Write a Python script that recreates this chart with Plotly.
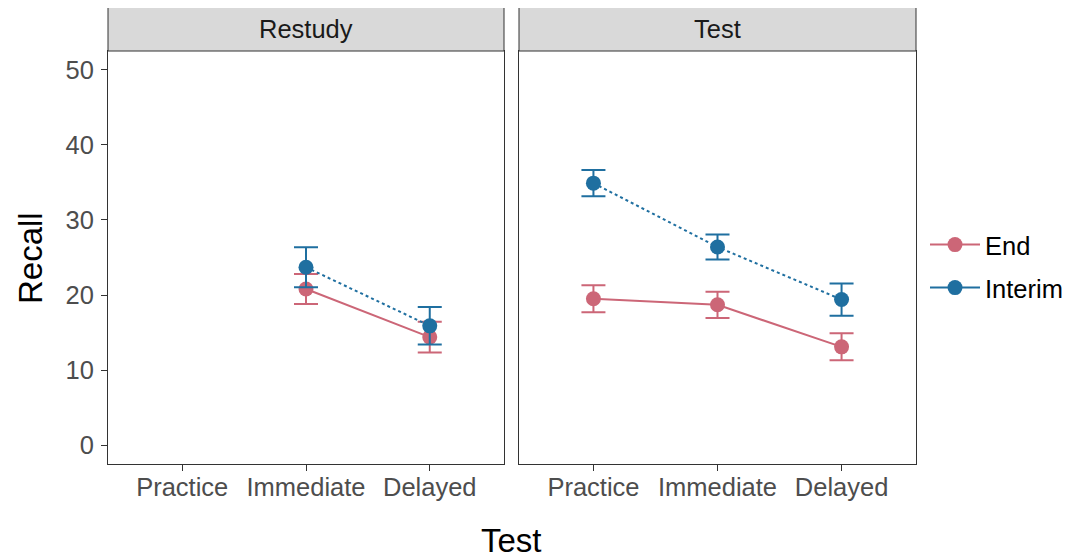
import plotly.graph_objects as go

categories = ["Practice", "Immediate", "Delayed"]
cat_pos = [1, 2, 3]
y_ticks = [0, 10, 20, 30, 40, 50]
panels = ["Restudy", "Test"]

# End group
end_restudy_mean = [None, 20.8, 14.4]
end_restudy_se = [None, 2.0, 2.05]
end_test_mean = [19.5, 18.7, 13.1]
end_test_se = [1.8, 1.75, 1.8]

# Interim group
interim_restudy_mean = [None, 23.7, 15.9]
interim_restudy_se = [None, 2.65, 2.5]
interim_test_mean = [34.9, 26.4, 19.4]
interim_test_se = [1.75, 1.65, 2.15]

END_COL = "#CC6677"
INT_COL = "#1F6FA0"
FONT = "Liberation Sans"
W, H = 1073, 558
OFF = 8  # page body margin offset
FS = 25.5
TS = 33

fig = go.Figure()

def add(xax, yax, mean, se, col, dash):
    fig.add_trace(go.Scatter(
        x=cat_pos, y=mean, xaxis=xax, yaxis=yax, mode="lines+markers",
        line=dict(color=col, width=2, dash=dash),
        marker=dict(color=col, size=15),
        error_y=dict(type="data", array=se, color=col, thickness=2, width=12),
        showlegend=False, connectgaps=False, hoverinfo="skip"))

add("x", "y", end_restudy_mean, end_restudy_se, END_COL, "solid")
add("x", "y", interim_restudy_mean, interim_restudy_se, INT_COL, "dot")
add("x2", "y2", end_test_mean, end_test_se, END_COL, "solid")
add("x2", "y2", interim_test_mean, interim_test_se, INT_COL, "dot")

# legend-only traces (separate legends for spacing)
for name, col, leg in [("End", END_COL, "legend"), ("Interim", INT_COL, "legend2")]:
    fig.add_trace(go.Scatter(x=[None], y=[None], mode="lines+markers", name=name,
                             line=dict(color=col, width=2), legend=leg,
                             marker=dict(color=col, size=15), showlegend=True))

# layout geometry (page pixels)
px0, px1 = 108, 504
qx0, qx1 = 519, 916
top, bottom = 51, 464
strip_top = 6

def fx(p):
    return (p - OFF) / W

def fy(p):
    return (H - (p - OFF)) / H

axis_common = dict(showgrid=False, zeroline=False, showline=True, mirror=True,
                   linecolor="#333333", linewidth=1)
xcommon = dict(axis_common, range=[0.4, 3.6], tickvals=cat_pos, ticktext=categories,
               ticks="outside", ticklen=6, tickcolor="#333333", tickwidth=1,
               ticklabelstandoff=-6,
               tickfont=dict(family=FONT, size=FS, color="#4D4D4D"), automargin=False)
ycommon = dict(axis_common, range=[-2.5, 52.5], automargin=False)

legcommon = dict(xanchor="left", yanchor="middle",
                 font=dict(family=FONT, size=FS, color="black"),
                 bgcolor="rgba(0,0,0,0)", itemwidth=50)

fig.update_layout(
    width=W, height=H, margin=dict(l=0, r=0, t=0, b=0),
    plot_bgcolor="white", paper_bgcolor="white",
    xaxis=dict(xcommon, domain=[fx(px0), fx(px1)], anchor="y"),
    xaxis2=dict(xcommon, domain=[fx(qx0), fx(qx1)], anchor="y2"),
    yaxis=dict(ycommon, domain=[fy(bottom), fy(top)], anchor="x", tickvals=y_ticks,
               ticks="outside", ticklen=6, tickcolor="#333333", ticklabelstandoff=2,
               tickfont=dict(family=FONT, size=FS, color="#4D4D4D")),
    yaxis2=dict(ycommon, domain=[fy(bottom), fy(top)], anchor="x2", showticklabels=False,
                ticks=""),
    legend=dict(legcommon, x=fx(925), y=fy(245)),
    legend2=dict(legcommon, x=fx(925), y=fy(288)),
    showlegend=True,
)

# strips
for (a, b), label in zip([(px0, px1), (qx0, qx1)], panels):
    fig.add_shape(type="rect", xref="paper", yref="paper",
                  x0=fx(a), x1=fx(b), y0=fy(top), y1=fy(strip_top),
                  fillcolor="#D9D9D9", line=dict(color="#333333", width=1), layer="above")
    fig.add_annotation(text=label, xref="paper", yref="paper", x=fx((a + b) / 2),
                       y=fy((top + strip_top) / 2), showarrow=False,
                       font=dict(family=FONT, size=FS, color="#1A1A1A"),
                       xanchor="center", yanchor="middle")

fig.add_annotation(text="Test", xref="paper", yref="paper", x=fx(512), y=fy(540),
                   showarrow=False, font=dict(family=FONT, size=TS, color="black"),
                   xanchor="center", yanchor="middle")
fig.add_annotation(text="Recall", xref="paper", yref="paper", x=fx(30), y=fy(258),
                   showarrow=False, textangle=-90,
                   font=dict(family=FONT, size=TS, color="black"),
                   xanchor="center", yanchor="middle")

fig.write_html("out.html")
